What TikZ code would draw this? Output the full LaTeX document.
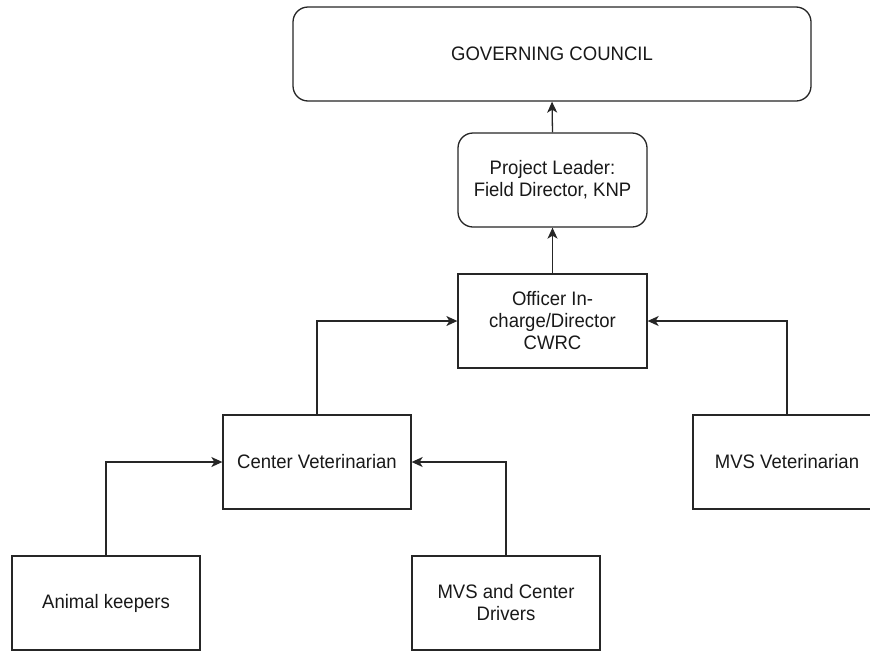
\documentclass[tikz,border=0pt]{standalone}
\usepackage{fontspec}
\setmainfont{Liberation Sans}[FakeStretch=0.95]
\usetikzlibrary{arrows.meta}
\tikzset{
  box/.style={draw=black!85, line width=1.3pt, fill=white, rectangle, minimum width=188pt, minimum height=94pt, inner sep=0pt, align=center, font=\fontsize{19.5}{22}\selectfont, text=black!90},
  rbox/.style={box, rounded corners=15pt},
  conn/.style={draw=black!85, line width=1.3pt, -{Stealth[length=11pt,width=10pt,inset=3pt]}}
}
\begin{document}
\begin{tikzpicture}[x=1pt,y=-1pt]
\useasboundingbox (0,0) rectangle (870,651);
\clip (0,0) rectangle (870,651);
\node[rbox, minimum width=518pt] (gov) at (552,54) {GOVERNING COUNCIL};
\node[rbox, minimum width=189pt] (pl) at (552.5,180) {Project Leader:\\Field Director, KNP};
\node[box, minimum width=189pt] (off) at (552.5,321) {Officer In-\\charge/Director\\CWRC};
\node[box] (cv) at (317,462) {Center Veterinarian};
\node[box] (mvsv) at (787,462) {MVS Veterinarian};
\node[box] (ak) at (106,603) {Animal keepers};
\node[box] (drv) at (506,603) {MVS and Center\\Drivers};
\draw[conn] (pl.north) -- (gov.south);
\draw[conn] (off.north) -- (pl.south);
\draw[conn] (cv.north) |- (off.west);
\draw[conn] (mvsv.north) |- (off.east);
\draw[conn] (ak.north) |- (cv.west);
\draw[conn] (drv.north) |- (cv.east);
\end{tikzpicture}
\end{document}
